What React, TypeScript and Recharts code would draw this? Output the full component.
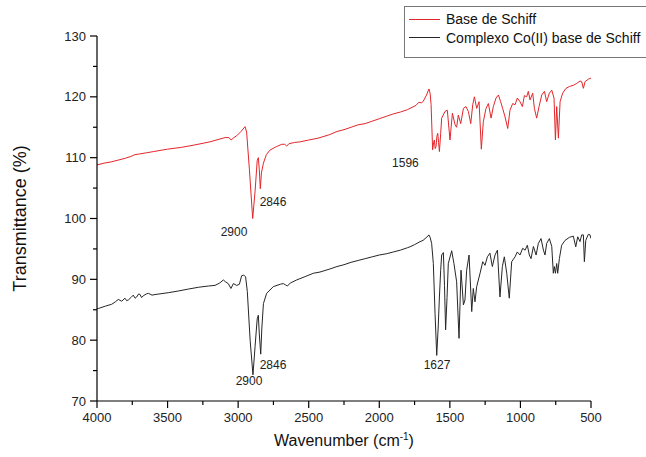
import React from 'react';
import { LineChart, Line, XAxis, YAxis, Legend, ReferenceDot } from 'recharts';

// ---- data ----
const redWn = [4000, 3950, 3900, 3850, 3800, 3760, 3731, 3700, 3650, 3600, 3500, 3400, 3306, 3200, 3093, 3065, 3050, 3030, 3010, 2980, 2951, 2940, 2920, 2897, 2880, 2865, 2857, 2850, 2843, 2835, 2821, 2800, 2774, 2730, 2691, 2670, 2656, 2640, 2600, 2561, 2500, 2434, 2350, 2300, 2250, 2200, 2150, 2100, 2050, 2000, 1950, 1900, 1850, 1800, 1782, 1740, 1720, 1700, 1688, 1665, 1648, 1640, 1633, 1622, 1615, 1610, 1604, 1598, 1592, 1586, 1580, 1574, 1565, 1558, 1534, 1518, 1499, 1482, 1463, 1452, 1440, 1423, 1404, 1386, 1369, 1352, 1338, 1326, 1310, 1293, 1277, 1263, 1244, 1227, 1208, 1192, 1173, 1156, 1140, 1126, 1109, 1090, 1074, 1055, 1038, 1022, 1003, 986, 972, 956, 944, 932, 913, 901, 885, 868, 849, 830, 814, 795, 778, 762, 752, 743, 731, 719, 701, 677, 653, 625, 601, 578, 566, 554, 542, 519, 500];
const redT = [108.8, 109.1, 109.3, 109.6, 109.9, 110.2, 110.5, 110.6, 110.8, 111.0, 111.4, 111.7, 112.1, 112.6, 113.3, 113.3, 112.9, 113.3, 113.6, 114.3, 115.1, 114.2, 108.0, 100.0, 104.5, 109.5, 110.0, 108.0, 104.9, 107.5, 109.1, 110.5, 111.25, 111.8, 112.2, 112.2, 111.9, 112.3, 112.5, 112.6, 112.9, 113.2, 113.8, 114.3, 114.6, 115.0, 115.4, 115.6, 116.0, 116.4, 116.8, 117.2, 117.5, 117.9, 118.1, 118.6, 119.1, 119.0, 119.3, 120.3, 121.3, 120.6, 118.7, 111.3, 112.5, 112.9, 111.5, 111.8, 113.5, 114.0, 112.5, 111.0, 114.0, 116.5, 117.6, 117.8, 112.9, 117.3, 115.4, 115.0, 117.0, 115.6, 118.1, 118.4, 117.6, 115.6, 118.7, 120.0, 118.1, 119.2, 111.4, 115.9, 118.1, 118.9, 116.5, 118.4, 119.8, 120.3, 119.2, 118.1, 116.7, 114.8, 117.8, 118.9, 118.7, 119.8, 119.2, 118.4, 120.2, 120.0, 120.9, 119.5, 120.6, 118.1, 116.5, 118.4, 120.3, 120.9, 119.2, 120.6, 121.1, 119.8, 112.9, 118.4, 113.2, 119.2, 120.6, 121.4, 121.7, 121.9, 122.2, 122.6, 122.5, 121.4, 122.5, 122.9, 123.1];

const blackWn = [4000, 3991, 3940, 3896, 3870, 3849, 3825, 3802, 3790, 3778, 3760, 3743, 3730, 3719, 3705, 3695, 3684, 3672, 3650, 3636, 3610, 3589, 3495, 3420, 3353, 3280, 3211, 3164, 3130, 3105, 3090, 3070, 3051, 3034, 3010, 2991, 2975, 2960, 2947, 2935, 2915, 2895, 2880, 2865, 2857, 2850, 2840, 2832, 2821, 2798, 2751, 2700, 2680, 2665, 2651, 2630, 2585, 2520, 2467, 2420, 2350, 2300, 2250, 2200, 2150, 2100, 2050, 2000, 1950, 1900, 1850, 1800, 1782, 1750, 1711, 1690, 1670, 1648, 1640, 1629, 1617, 1605, 1593, 1583, 1574, 1565, 1558, 1546, 1538, 1530, 1520, 1511, 1487, 1471, 1452, 1435, 1421, 1404, 1393, 1381, 1364, 1345, 1334, 1322, 1310, 1286, 1267, 1251, 1234, 1216, 1199, 1180, 1163, 1145, 1128, 1114, 1097, 1079, 1062, 1038, 1022, 1003, 984, 967, 951, 937, 925, 908, 889, 873, 854, 837, 826, 814, 795, 778, 767, 760, 752, 743, 736, 724, 708, 684, 653, 625, 608, 594, 578, 566, 554, 547, 537, 519, 507, 500];
const blackT = [85.2, 85.2, 85.6, 85.9, 86.3, 86.7, 86.4, 86.9, 86.5, 86.6, 87.0, 87.4, 86.9, 87.1, 87.6, 87.5, 87.0, 87.3, 87.6, 87.7, 87.4, 87.5, 87.8, 88.1, 88.4, 88.7, 88.9, 89.0, 89.4, 89.9, 89.6, 89.3, 88.5, 89.3, 89.0, 89.2, 90.6, 90.7, 90.4, 88.0, 80.0, 74.3, 79.0, 83.5, 84.1, 81.0, 77.7, 82.0, 86.0, 87.7, 88.8, 89.2, 89.3, 89.1, 88.9, 89.4, 89.9, 90.5, 91.0, 91.2, 91.7, 92.1, 92.4, 92.8, 93.1, 93.4, 93.7, 94.0, 94.2, 94.5, 94.8, 95.2, 95.35, 95.7, 96.2, 96.4, 96.8, 97.3, 96.9, 95.9, 92.6, 84.4, 77.5, 82.0, 87.1, 91.5, 94.0, 94.4, 89.0, 81.7, 87.0, 92.6, 94.7, 92.6, 89.6, 80.3, 91.5, 85.8, 86.6, 91.5, 94.0, 84.7, 88.5, 86.3, 88.8, 91.0, 92.9, 92.3, 93.7, 94.3, 92.1, 94.0, 94.8, 87.1, 92.1, 93.7, 91.0, 86.9, 92.9, 93.7, 94.5, 94.0, 95.1, 94.8, 95.6, 94.0, 93.4, 95.4, 94.0, 95.9, 96.7, 94.8, 94.0, 95.9, 96.7, 95.4, 91.0, 92.1, 91.0, 92.6, 91.0, 93.4, 95.6, 96.4, 96.9, 97.1, 95.35, 97.0, 96.2, 97.3, 97.3, 92.9, 96.4, 97.4, 97.3, 96.7];

const seriesNames = ['Base de Schiff', 'Complexo Co(II) base de Schiff'];
const seriesColors = ['#e3262b', '#262626'];

const xTicks = [4000, 3750, 3500, 3250, 3000, 2750, 2500, 2250, 2000, 1750, 1500, 1250, 1000, 750, 500];
const xMajor = [4000, 3500, 3000, 2500, 2000, 1500, 1000, 500];
const yTicks = [70, 75, 80, 85, 90, 95, 100, 105, 110, 115, 120, 125, 130];
const yMajor = [70, 80, 90, 100, 110, 120, 130];

// annotation label centres (wavenumber, transmittance, text)
const annWn = [3029, 2753, 1815, 2923, 2753, 1591];
const annT = [97.8, 102.7, 109.1, 73.3, 76.0, 76.0];
const annText = ['2900', '2846', '1596', '2900', '2846', '1627'];

const redData = redWn.map((wn, i) => ({ wn, t: redT[i] }));
const blackData = blackWn.map((wn, i) => ({ wn, t: blackT[i] }));

const FONT = '"Liberation Sans", Arial, sans-serif';

const XTick = (props: any) => {
  const { x, y, payload } = props;
  const major = xMajor.includes(payload.value);
  const len = major ? 7 : 4;
  return (
    <g>
      <line x1={x} y1={y} x2={x} y2={y + len} stroke="#000" strokeWidth={1.2} />
      {major && (
        <text x={x} y={y + 21} textAnchor="middle" fontSize={13} fill="#222" fontFamily={FONT}>
          {payload.value}
        </text>
      )}
    </g>
  );
};

const YTick = (props: any) => {
  const { x, y, payload } = props;
  const major = yMajor.includes(payload.value);
  const len = major ? 7 : 4;
  return (
    <g>
      <line x1={x - len} y1={y} x2={x} y2={y} stroke="#000" strokeWidth={1.2} />
      {major && (
        <text x={x - 11} y={y + 4.5} textAnchor="end" fontSize={13} fill="#222" fontFamily={FONT}>
          {payload.value}
        </text>
      )}
    </g>
  );
};

const XTitle = (props: any) => {
  const vb = props.viewBox;
  return (
    <text x={vb.x + vb.width / 2} y={vb.y + 45} textAnchor="middle" fontSize={16} fill="#111" fontFamily={FONT}>
      <tspan>Wavenumber (cm</tspan>
      <tspan dy={-6} fontSize={10}>-1</tspan>
      <tspan dy={6}>)</tspan>
    </text>
  );
};

const YTitle = (props: any) => {
  const vb = props.viewBox;
  const cx = vb.x + 26;
  const cy = vb.y + vb.height / 2;
  return (
    <text x={cx} y={cy} textAnchor="middle" fontSize={18} fill="#111" fontFamily={FONT} transform={`rotate(-90 ${cx} ${cy})`}>
      Transmittance (%)
    </text>
  );
};

const LegendBox = () => (
  <div
    style={{
      width: 250,
      height: 52,
      border: '1px solid #777',
      background: '#fff',
      fontFamily: FONT,
      fontSize: 14,
      color: '#111',
      boxSizing: 'border-box',
      paddingTop: 3,
    }}
  >
    {seriesNames.map((n, i) => (
      <div key={n} style={{ display: 'flex', alignItems: 'center', height: 18.5 }}>
        <div style={{ width: 31, height: 1, background: seriesColors[i], marginLeft: 4, marginRight: 6 }} />
        <span>{n}</span>
      </div>
    ))}
  </div>
);

export default function App() {
  return (
    <div style={{ position: 'absolute', left: 0, top: 0, width: 646, height: 457, background: '#fff' }}>
      <LineChart width={646} height={457} margin={{ top: 36, right: 55, bottom: 0, left: 0 }}>
        <XAxis
          type="number"
          dataKey="wn"
          domain={[500, 4000]}
          reversed
          ticks={xTicks}
          interval={0}
          allowDataOverflow
          height={56}
          tickSize={0}
          tickMargin={0}
          tick={<XTick />}
          axisLine={{ stroke: '#000', strokeWidth: 1.2 }}
          tickLine={false}
          label={<XTitle />}
        />
        <YAxis
          type="number"
          dataKey="t"
          domain={[70, 130]}
          ticks={yTicks}
          interval={0}
          allowDataOverflow
          width={97}
          tickSize={0}
          tickMargin={0}
          tick={<YTick />}
          axisLine={{ stroke: '#000', strokeWidth: 1.2 }}
          tickLine={false}
          label={<YTitle />}
        />
        <Line data={redData} dataKey="t" name={seriesNames[0]} stroke={seriesColors[0]} strokeWidth={1} dot={false} activeDot={false} isAnimationActive={false} type="linear" />
        <Line data={blackData} dataKey="t" name={seriesNames[1]} stroke={seriesColors[1]} strokeWidth={1} dot={false} activeDot={false} isAnimationActive={false} type="linear" />
        {annText.map((txt, i) => (
          <ReferenceDot
            key={i}
            x={annWn[i]}
            y={annT[i]}
            r={0}
            fill="none"
            stroke="none"
            label={{ value: txt, position: 'center', fontSize: 12, fill: '#222', fontFamily: FONT }}
          />
        ))}
        <Legend
          layout="vertical"
          align="center"
          verticalAlign="middle"
          content={<LegendBox />}
          wrapperStyle={{ position: 'absolute', left: 404, top: 6, width: 250, height: 52 }}
        />
      </LineChart>
    </div>
  );
}
